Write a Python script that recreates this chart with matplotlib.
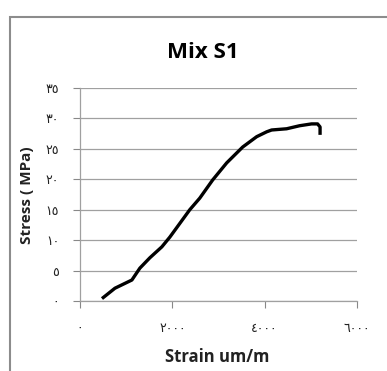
import matplotlib.pyplot as plt
from matplotlib.patches import Rectangle

# strain (um/m) vs stress (MPa)
strain = [476, 757, 1124, 1297, 1513, 1773, 1946, 2378, 2594, 2875, 3178, 3524,
          3827, 4043, 4151, 4475, 4757, 5016, 5146, 5200, 5200]
stress = [0.4, 2.1, 3.45, 5.4, 7.1, 8.9, 10.5, 15.0, 16.9, 19.9, 22.7, 25.3,
          27.0, 27.8, 28.1, 28.3, 28.8, 29.1, 29.1, 28.6, 27.3]

y_ticks = [0, 5, 10, 15, 20, 25, 30, 35]
y_labels = ['٠', '٥', '١٠', '١٥', '٢٠', '٢٥', '٣٠', '٣٥']
x_ticks = [0, 2000, 4000, 6000]
x_labels = ['٠', '٢٠٠٠', '٤٠٠٠', '٦٠٠٠']

W, H = 387, 371
fig = plt.figure(figsize=(W / 100, H / 100), dpi=100)
fig.patch.set_facecolor('white')

# outer chart border (cropped on the right and bottom)
fig.add_artist(Rectangle((10 / W, -0.1), 1.2, 1 - 17 / H + 0.1,
                         transform=fig.transFigure, fill=False,
                         edgecolor='#8c8c8c', linewidth=1.5))

ax = fig.add_axes([80 / W, 1 - 301 / H, 277 / W, 213 / H])
ax.plot(strain, stress, color='black', linewidth=2.4,
        solid_joinstyle='round', solid_capstyle='butt')

ax.set_xlim(0, 6000)
ax.set_ylim(0, 35)
ax.set_xticks(x_ticks)
ax.set_xticklabels(x_labels, family='DejaVu Sans', fontsize=9)
ax.set_yticks(y_ticks)
ax.set_yticklabels(y_labels, family='DejaVu Sans', fontsize=9)
ax.tick_params(axis='both', colors='#888888', labelcolor='#222222', length=5, width=0.8)
ax.tick_params(axis='x', pad=10)
ax.tick_params(axis='y', pad=10)

ax.yaxis.grid(True, color='#a0a0a0', linewidth=0.9)
ax.set_axisbelow(True)
for side in ('top', 'right'):
    ax.spines[side].set_visible(False)
for side in ('left', 'bottom'):
    ax.spines[side].set_color('#a0a0a0')
    ax.spines[side].set_linewidth(0.9)

fig.text(203 / W, 1 - 53 / H, 'Mix S1', ha='center', va='center',
         fontsize=16, fontweight='bold', family='Open Sans')
fig.text(217 / W, 1 - 357 / H, 'Strain um/m', ha='center', va='center',
         fontsize=12, fontweight='bold', family='Open Sans', color='#222222')
fig.text(27 / W, 1 - 195 / H, 'Stress ( MPa)', ha='center', va='center',
         rotation=90, fontsize=11, fontweight='bold', family='Open Sans',
         color='#222222')

fig.savefig('out.png', dpi=100)
